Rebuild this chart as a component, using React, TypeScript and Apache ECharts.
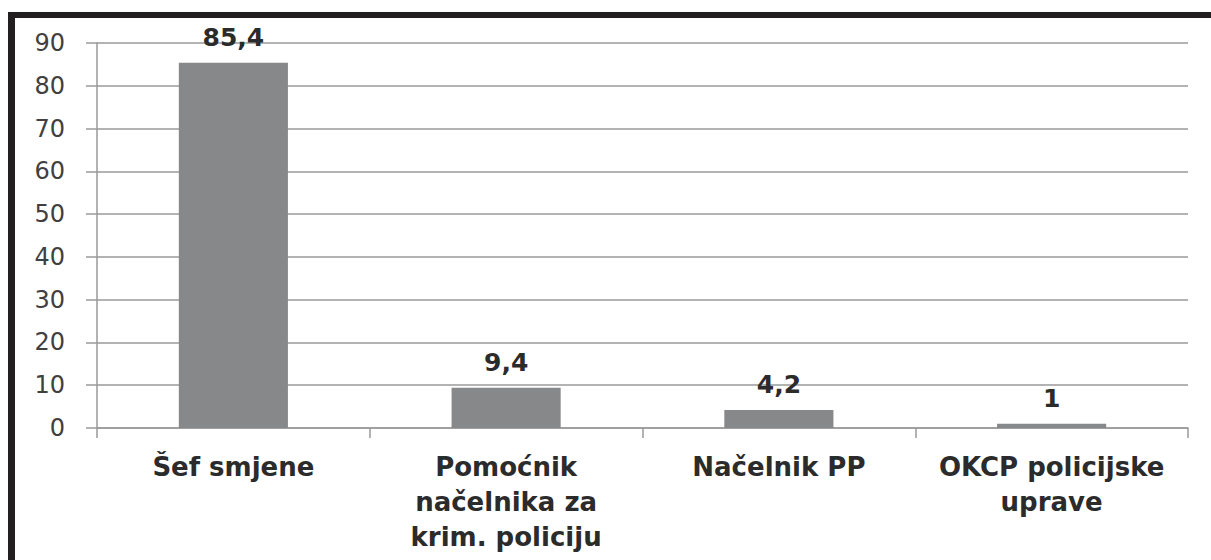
import React, { useEffect, useRef } from "react";
import * as echarts from "echarts";

const categories = ["Šef smjene", "Pomoćnik\nnačelnika za\nkrim. policiju", "Načelnik PP", "OKCP policijske\nuprave"];
const values = [85.4, 9.4, 4.2, 1];
const valueLabels = ["85,4", "9,4", "4,2", "1"];

export default function App() {
  const ref = useRef<HTMLDivElement>(null);
  useEffect(() => {
    if (!ref.current) return;
    const chart = echarts.init(ref.current, null, { renderer: "svg" });
    chart.setOption({
      animation: false,
      backgroundColor: "#ffffff",
      grid: { left: 97, right: 23, top: 43, bottom: 132 },
      graphic: [
        { type: "rect", shape: { x: 8, y: 12, width: 1203, height: 6 }, style: { fill: "#231f20" } },
        { type: "rect", shape: { x: 8, y: 12, width: 7, height: 548 }, style: { fill: "#231f20" } },
      ],
      xAxis: {
        type: "category",
        data: categories,
        axisLine: { lineStyle: { color: "#9a9a9a", width: 1.5 } },
        axisTick: { show: true, length: 10, lineStyle: { color: "#9a9a9a", width: 1.5 } },
        axisLabel: {
          interval: 0,
          margin: 21,
          fontFamily: "DejaVu Sans",
          fontWeight: "bold",
          fontSize: 26,
          lineHeight: 35,
          color: "#2b2b2b",
        },
      },
      yAxis: {
        type: "value",
        min: 0,
        max: 90,
        interval: 10,
        axisLine: { show: true, lineStyle: { color: "#9a9a9a", width: 1.5 } },
        axisTick: { show: true, length: 11, lineStyle: { color: "#9a9a9a", width: 1.5 } },
        splitLine: { lineStyle: { color: "#9a9a9a", width: 1.5 } },
        axisLabel: {
          margin: 32,
          fontFamily: "DejaVu Sans",
          fontSize: 24,
          color: "#404040",
        },
      },
      series: [
        {
          type: "bar",
          data: values,
          barWidth: "40%",
          itemStyle: { color: "#87888a" },
          label: {
            show: true,
            position: "top",
            distance: 13,
            fontFamily: "DejaVu Sans",
            fontWeight: "bold",
            fontSize: 25,
            color: "#2b2b2b",
            formatter: (p: any) => valueLabels[p.dataIndex],
          },
        },
      ],
    });
    return () => chart.dispose();
  }, []);
  return <div ref={ref} style={{ width: 1211, height: 560, position: "absolute", left: 0, top: 0 }} />;
}
